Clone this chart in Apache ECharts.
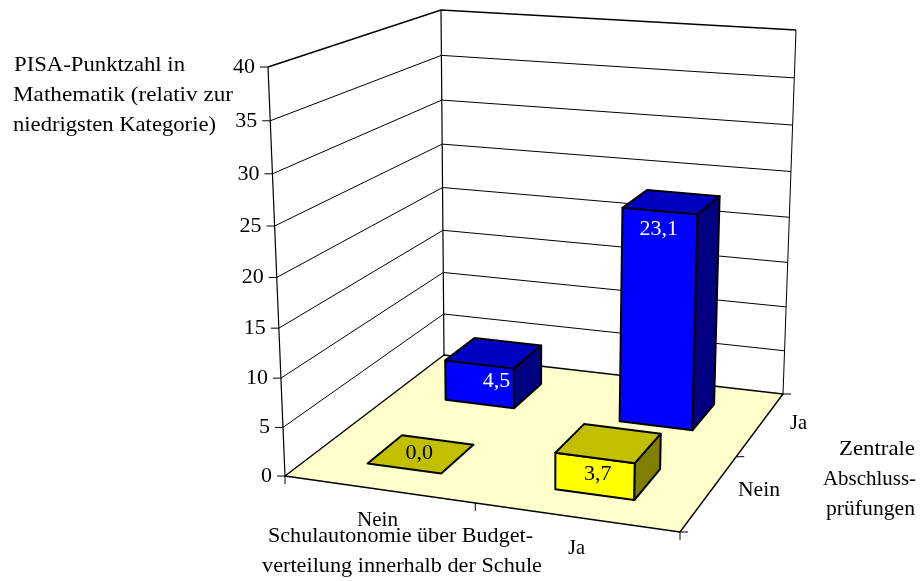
<!DOCTYPE html>
<html><head><meta charset="utf-8">
<style>html,body{margin:0;padding:0;background:#fff}#c{width:920px;height:581px}</style>
<script src="https://cdn.jsdelivr.net/npm/echarts@6/dist/echarts.min.js"></script>
</head><body><div id="c"></div>
<script>
// ---- data
const xCategories = ['Nein', 'Ja'];
const depthCategories = ['Nein', 'Ja'];
const tickValues = [0, 5, 10, 15, 20, 25, 30, 35, 40];
const xIndex = [0, 1, 0, 1];
const depthIndex = [1, 1, 0, 0];
const values = [4.5, 23.1, 0.0, 3.7];
const valueTexts = ['4,5', '23,1', '0,0', '3,7'];
// ---- layout
const FONT = '"Liberation Serif","Times New Roman",serif';
const FS = 22, FS_NUM = 22;
const floorQuad = [[285, 476], [680, 532], [783, 394], [444, 355]];
const topQuad = [[268, 67], [689, 96], [796, 30], [441, 10]];
const persp = 1.06;
const halfU = 0.099, halfV = 0.105, shiftU = [0.003, -0.003];
const rowStyles = [
  {front: '#FFFF00', top: '#C0C000', side: '#808000', text: '#000'},
  {front: '#0000FF', top: '#0000C0', side: '#000080', text: '#fff'}
];
const labelOffsets = [[17, 17], [-1, 18], [15, -15], [3, 16]];

function homography(q) {
  const [p0, p1, p2, p3] = q;
  const sx = p0[0]-p1[0]+p2[0]-p3[0], sy = p0[1]-p1[1]+p2[1]-p3[1];
  const dx1 = p1[0]-p2[0], dx2 = p3[0]-p2[0], dy1 = p1[1]-p2[1], dy2 = p3[1]-p2[1];
  const den = dx1*dy2-dx2*dy1;
  const g = (sx*dy2-dx2*sy)/den, h = (dx1*sy-sx*dy1)/den;
  const a = p1[0]-p0[0]+g*p1[0], b = p3[0]-p0[0]+h*p3[0];
  const d = p1[1]-p0[1]+g*p1[1], e = p3[1]-p0[1]+h*p3[1];
  return (u, v) => { const w = g*u+h*v+1; return [(a*u+b*v+p0[0])/w, (d*u+e*v+p0[1])/w]; };
}
const floorH = homography(floorQuad), topH = homography(topQuad);

const chart = echarts.init(document.getElementById('c'));
const mctx = document.createElement('canvas').getContext('2d');
function scaleFor(s, target, size) {
  mctx.font = size + 'px ' + FONT;
  return target / mctx.measureText(s).width;
}
function heightFrac(params, api, value) {
  const cs = params.coordSys;
  return (cs.y + cs.height - api.coord([0, value])[1]) / cs.height;
}
function P(u, v, w) {
  const a = floorH(u, v), b = topH(u, v);
  const f = w / (w + persp * (1 - w));
  return [a[0] + (b[0]-a[0])*f, a[1] + (b[1]-a[1])*f];
}
const line = (p, q, width) => ({type: 'line', shape: {x1: p[0], y1: p[1], x2: q[0], y2: q[1]}, style: {stroke: '#000', lineWidth: width}});
const poly = (pts, fill, lw) => ({type: 'polygon', shape: {points: pts}, style: {fill, stroke: '#000', lineWidth: lw, lineJoin: 'round'}});
const text = (x, y, s, align, size, fill) => ({type: 'text', x, y, style: {text: s, fill: fill || '#000', font: (size||FS) + 'px ' + FONT, align: align||'center', verticalAlign: 'middle'}});

function renderWall(params, api) {
  const value = api.value(1), w = heightFrac(params, api, value);
  const a = P(0,0,w), b = P(0,1,w), c = P(1,1,w);
  const top = value === 40, bottom = value === 0;
  const ch = [];
  if (!bottom) ch.push({type: 'polyline', shape: {points: [a, b, c]}, style: {fill: 'none', stroke: '#000', lineWidth: top ? 1.4 : 1}});
  ch.push(line([a[0]-8, a[1]], a, 1));
  ch.push(text(a[0]-13, a[1], String(value), 'right', FS_NUM));
  return {type: 'group', children: ch};
}
function renderFrame(params, api) {
  const ch = [];
  ch.push(poly([P(0,0,0), P(1,0,0), P(1,1,0), P(0,1,0)], '#FFFFCC', 1.4));
  ch.push(line(P(0,0,0), P(0,0,1), 1.2));
  ch.push(line(P(0,1,0), P(0,1,1), 1.2));
  ch.push(line(P(1,1,0), P(1,1,1), 1));
  [0, .5, 1].forEach(u => { const p = P(u,0,0); ch.push(line(p, [p[0], p[1]+8], 1)); });
  [0, .5, 1].forEach(v => { const p = P(1,v,0); ch.push(line(p, [p[0]+8, p[1]], 1)); });
  return {type: 'group', children: ch};
}
function renderBar(params, api) {
  const xi = api.value(0), di = api.value(1), val = api.value(2);
  const u = api.coord([xi, 0])[0] / params.coordSys.width + shiftU[xi];
  const v = (di + 0.5) / depthCategories.length;
  const w = heightFrac(params, api, val);
  const st = rowStyles[di];
  const u0 = u-halfU, u1 = u+halfU, v0 = v-halfV, v1 = v+halfV;
  const ch = [];
  if (val > 0) {
    ch.push(poly([P(u0,v0,0), P(u1,v0,0), P(u1,v0,w), P(u0,v0,w)], st.front, 2));
    ch.push(poly([P(u1,v0,0), P(u1,v1,0), P(u1,v1,w), P(u1,v0,w)], st.side, 2));
  }
  ch.push(poly([P(u0,v0,w), P(u1,v0,w), P(u1,v1,w), P(u0,v1,w)], st.top, 2));
  const fc = P(u, v0, w), off = labelOffsets[params.dataIndex];
  ch.push(text(fc[0]+off[0], fc[1]+off[1], valueTexts[params.dataIndex], 'center', FS_NUM, st.text));
  return {type: 'group', children: ch};
}
const staticText = (x, y, s, width) => ({type: 'text', x, y, scaleX: scaleFor(s, width, FS), z: 10,
  style: {text: s, fill: '#000', font: FS + 'px ' + FONT, verticalAlign: 'middle', align: 'left'}});

chart.setOption({
  animation: false,
  backgroundColor: '#fff',
  grid: {left: 0, right: 0, top: 0, bottom: 0},
  xAxis: {type: 'category', data: xCategories, show: false},
  yAxis: {type: 'value', min: 0, max: 40, interval: 5, show: false},
  tooltip: {show: false},
  series: [
    {type: 'custom', name: 'Rahmen', renderItem: renderFrame, data: [[0, 0]], z: 1, silent: true},
    {type: 'custom', name: 'Gitter', renderItem: renderWall, encode: {x: 0, y: 1}, data: tickValues.map(t => [0, t]), z: 2, silent: true},
    {type: 'custom', name: 'Balken', renderItem: renderBar, encode: {x: 0, y: 2}, data: values.map((val, i) => [xIndex[i], depthIndex[i], val]), z: 3, silent: true}
  ],
  graphic: [
    staticText(14, 65, 'PISA-Punktzahl in', 171),
    staticText(13, 95, 'Mathematik (relativ zur', 220),
    staticText(13, 125, 'niedrigsten Kategorie)', 203),
    staticText(357, 520, xCategories[0], 41),
    staticText(568, 548, xCategories[1], 17),
    staticText(738, 490, depthCategories[0], 42),
    staticText(790, 423, depthCategories[1], 17),
    staticText(268, 536, 'Schulautonomie über Budget-', 265),
    staticText(262, 566, 'verteilung innerhalb der Schule', 280),
    staticText(839, 449, 'Zentrale', 76),
    staticText(823, 479, 'Abschluss-', 93),
    staticText(826, 509, 'prüfungen', 89)
  ]
});
</script></body></html>
